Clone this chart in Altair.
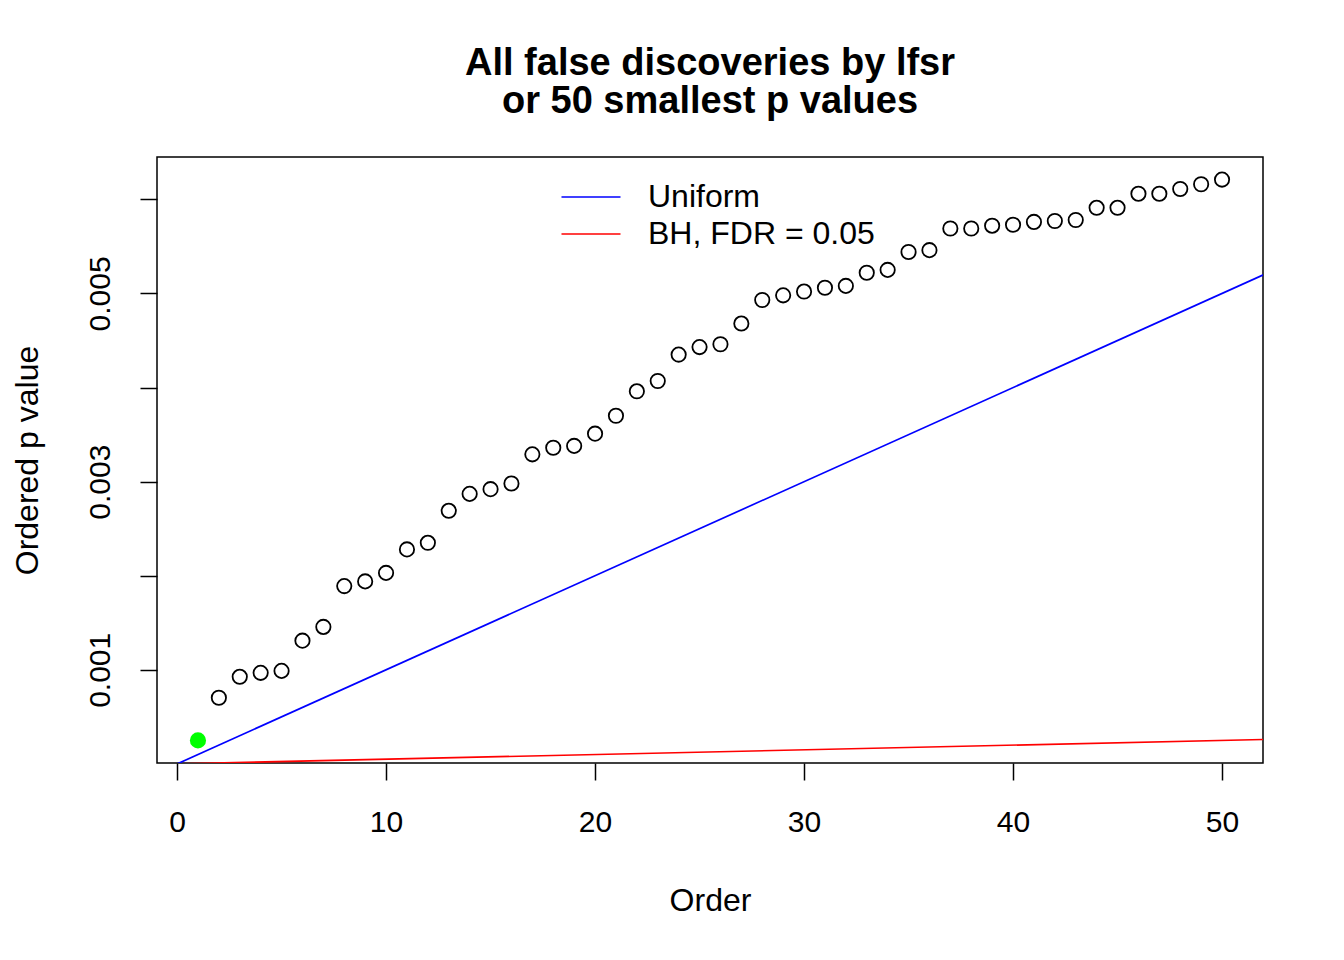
import altair as alt
import pandas as pd

# Data
order = [1, 2, 3, 4, 5, 6, 7, 8, 9, 10,
         11, 12, 13, 14, 15, 16, 17, 18, 19, 20,
         21, 22, 23, 24, 25, 26, 27, 28, 29, 30,
         31, 32, 33, 34, 35, 36, 37, 38, 39, 40,
         41, 42, 43, 44, 45, 46, 47, 48, 49, 50]
pvals = [0.00025, 0.000703, 0.000926, 0.000968, 0.000989, 0.00131, 0.001456, 0.00189, 0.00194, 0.00203,
         0.00228, 0.00235, 0.00269, 0.00287, 0.00292, 0.00298, 0.00329, 0.00336, 0.00338, 0.00351,
         0.00370, 0.00396, 0.00407, 0.00435, 0.00443, 0.00446, 0.00468, 0.00493, 0.00498, 0.00502,
         0.00506, 0.00508, 0.00522, 0.00525, 0.00544, 0.00546, 0.00569, 0.00569, 0.00572, 0.00573,
         0.00576, 0.00577, 0.00578, 0.00591, 0.00591, 0.00606, 0.00606, 0.00611, 0.00616, 0.00621]
false_disc = [True] + [False] * 49

line_x = [0, 52]
uniform_y = [0.0, 0.0052]
bh_y = [0.0, 0.00026]
line_names = ["Uniform", "BH, FDR = 0.05"]
line_colors = ["#0000FF", "#FF0000"]

x_ticks = [0, 10, 20, 30, 40, 50]
y_ticks = [0.001, 0.002, 0.003, 0.004, 0.005, 0.006]
y_labels = [0.001, 0.003, 0.005]

FONT = "Liberation Sans"

pts = pd.DataFrame({"order": order, "p": pvals, "fd": false_disc})
lines = pd.DataFrame({
    "x": line_x + line_x,
    "y": uniform_y + bh_y,
    "series": [line_names[0]] * 2 + [line_names[1]] * 2,
})

xscale = alt.Scale(domain=[-0.96, 51.96], nice=False, zero=False)
yscale = alt.Scale(domain=[0.00001, 0.00645], nice=False, zero=False)

label_expr = "indexof([" + ",".join(str(v) for v in y_labels) + "], round(datum.value*10000)/10000) >= 0 ? format(datum.value, '.3f') : ''"

xaxis = alt.Axis(values=x_ticks, title="Order", grid=False, domain=False,
                 tickSize=17, tickWidth=1.5, tickColor="black",
                 labelFontSize=30, labelFont=FONT, labelColor="black", labelPadding=27,
                 titleFontSize=32, titleFont=FONT, titleColor="black", titleFontWeight="normal",
                 titlePadding=48, labelFlush=False)
yaxis = alt.Axis(values=y_ticks, title="Ordered p value", grid=False, domain=False,
                 tickSize=17, tickWidth=1.5, tickColor="black",
                 labelExpr=label_expr, labelAngle=270, labelAlign="center", labelBaseline="alphabetic",
                 labelFontSize=30, labelFont=FONT, labelColor="black", labelPadding=31,
                 titleFontSize=32, titleFont=FONT, titleColor="black", titleFontWeight="normal",
                 titlePadding=41, labelFlush=False, labelOverlap=False)

line_layer = alt.Chart(lines).mark_line(strokeWidth=1.7, clip=True).encode(
    x=alt.X("x:Q", scale=xscale, axis=xaxis),
    y=alt.Y("y:Q", scale=yscale, axis=yaxis),
    color=alt.Color("series:N",
                    scale=alt.Scale(domain=line_names, range=line_colors),
                    legend=alt.Legend(title=None, orient="none", legendX=418, legendY=24,
                                      symbolType="M-3,0H3", symbolSize=387, symbolStrokeWidth=1.7,
                                      symbolFillColor="transparent",
                                      labelFontSize=32, labelFont=FONT, labelColor="black",
                                      labelOffset=41, rowPadding=5, padding=0, labelLimit=500)),
    detail="series:N",
)

open_pts = alt.Chart(pts).transform_filter("!datum.fd").mark_point(
    shape="circle", filled=False, size=205, strokeWidth=1.8, color="black", opacity=1
).encode(
    x=alt.X("order:Q", scale=xscale),
    y=alt.Y("p:Q", scale=yscale),
)

green_pts = alt.Chart(pts).transform_filter("datum.fd").mark_point(
    shape="circle", filled=True, size=260, color="#00FF00", opacity=1
).encode(
    x=alt.X("order:Q", scale=xscale),
    y=alt.Y("p:Q", scale=yscale),
)

chart = alt.layer(line_layer, open_pts, green_pts).properties(
    width=1106, height=606,
    background="white",
    title=alt.Title(["All false discoveries by lfsr", "or 50 smallest p values"],
                    fontSize=38, fontWeight="bold", font=FONT, color="black",
                    anchor="middle", frame="group", lineHeight=38, offset=36),
    autosize=alt.AutoSizeParams(type="none"),
    padding={"left": 149, "top": 149, "right": 73, "bottom": 189},
).configure_view(stroke="black", strokeWidth=1.5)

chart.save("out.html", embed_options={"renderer": "svg", "actions": False})
